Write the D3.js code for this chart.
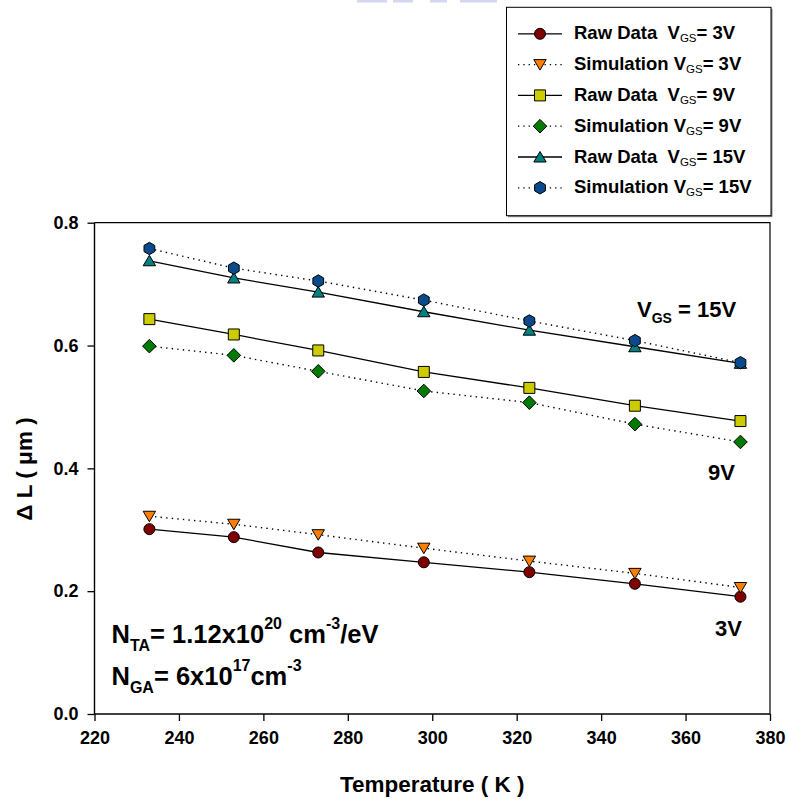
<!DOCTYPE html>
<html><head><meta charset="utf-8">
<script src="https://cdn.jsdelivr.net/npm/d3@7"></script>
<style>
body{margin:0;background:#fff}
text{font-family:Arial,"Liberation Sans",sans-serif;font-weight:bold;fill:#000;white-space:pre}
</style>
</head><body>
<svg id="chart" width="788" height="799"></svg>
<script>
// ---- data ----
const temps = [233, 253, 273, 298, 323, 348, 373];
const raw3  = [0.301, 0.288, 0.263, 0.247, 0.231, 0.212, 0.191];
const sim3  = [0.322, 0.309, 0.292, 0.270, 0.249, 0.229, 0.206];
const raw9  = [0.643, 0.618, 0.592, 0.557, 0.531, 0.502, 0.477];
const sim9  = [0.599, 0.584, 0.558, 0.526, 0.507, 0.472, 0.443];
const raw15 = [0.738, 0.710, 0.687, 0.655, 0.625, 0.598, 0.571];
const sim15 = [0.758, 0.726, 0.705, 0.674, 0.640, 0.608, 0.572];
const xTicks = [220, 240, 260, 280, 300, 320, 340, 360, 380];
const yTicks = [0.0, 0.2, 0.4, 0.6, 0.8];
const legendPrefixes = ["Raw Data\u00a0\u00a0V", "Simulation V", "Raw Data\u00a0\u00a0V", "Simulation V", "Raw Data\u00a0\u00a0V", "Simulation V"];
const legendSuffixes = ["= 3V", "= 3V", "= 9V", "= 9V", "= 15V", "= 15V"];

const series = [
  {values: raw3,  sym: "circle", color: "#7f0000", dotted: false},
  {values: sim3,  sym: "tridown", color: "#ff8000", dotted: true},
  {values: raw9,  sym: "square", color: "#cccc00", dotted: false},
  {values: sim9,  sym: "diamond", color: "#007a00", dotted: true},
  {values: raw15, sym: "triup", color: "#008080", dotted: false},
  {values: sim15, sym: "hexagon", color: "#0a4a8c", dotted: true}
];

// ---- layout ----
const svg = d3.select("#chart");
const L = 94.5, R = 770, T = 222.7, B = 714;
const x = d3.scaleLinear().domain([220, 380]).range([L, R]);
const y = d3.scaleLinear().domain([0, 0.8]).range([B, T]);

// faint artifact at top
[[357,30],[393,20],[430,17],[460,37]].forEach(([a,w]) => {
  svg.append("rect").attr("x", a).attr("y", 0).attr("width", w).attr("height", 2.5).attr("fill", "#d3d8f0");
});

function symPath(s) {
  switch (s) {
    case "circle": { const r = 5.5; return `M${r},0A${r},${r} 0 1,1 ${-r},0A${r},${r} 0 1,1 ${r},0Z`; }
    case "square": return "M-5.5,-5.5H5.5V5.5H-5.5Z";
    case "diamond": return "M0,-6.8L6.8,0L0,6.8L-6.8,0Z";
    case "triup": return "M0,-5.5L6.2,5L-6.2,5Z";
    case "tridown": return "M0,5.5L6.2,-5L-6.2,-5Z";
    case "hexagon": {
      const r = 6.2; let p = "";
      for (let i = 0; i < 6; i++) { const a = Math.PI / 3 * i - Math.PI / 2; p += (i ? "L" : "M") + (r * Math.cos(a)).toFixed(2) + "," + (r * Math.sin(a)).toFixed(2); }
      return p + "Z";
    }
  }
}

// axes
const xAxis = svg.append("g").attr("transform", `translate(0,${B})`)
  .call(d3.axisBottom(x).tickValues(xTicks).tickSize(7).tickSizeOuter(0).tickPadding(10).tickFormat(d3.format("d")));
const yAxis = svg.append("g").attr("transform", `translate(${L},0)`)
  .call(d3.axisLeft(y).tickValues(yTicks).tickSize(7).tickSizeOuter(0).tickPadding(9).tickFormat(d3.format(".1f")));
[xAxis, yAxis].forEach(g => {
  g.select(".domain").attr("stroke", "#000").attr("stroke-width", 1.4);
  g.selectAll(".tick line").attr("stroke", "#000").attr("stroke-width", 1.3);
  g.selectAll(".tick text").attr("font-size", 18).attr("font-family", "Arial, 'Liberation Sans', sans-serif").attr("font-weight", "bold").attr("fill", "#000");
});
xAxis.select(".domain").attr("d", `M${L},0H${R}`);
yAxis.select(".domain").attr("d", `M0,${B}V${T}`);
// frame top and right
svg.append("path").attr("d", `M${L},${T}H${R}V${B}`).attr("fill", "none").attr("stroke", "#000").attr("stroke-width", 1.2);

// lines
const line = d3.line().x(d => x(d[0])).y(d => y(d[1]));
series.forEach(s => {
  const pts = temps.map((t, i) => [t, s.values[i]]);
  svg.append("path").attr("d", line(pts)).attr("fill", "none").attr("stroke", "#000")
    .attr("stroke-width", s.dotted ? 1.4 : 1.3)
    .attr("stroke-dasharray", s.dotted ? "1.4,4.2" : null);
});
// markers
series.forEach(s => {
  svg.append("g").selectAll("path").data(temps.map((t, i) => [t, s.values[i]])).join("path")
    .attr("transform", d => `translate(${x(d[0])},${y(d[1])})`)
    .attr("d", symPath(s.sym)).attr("fill", s.color).attr("stroke", "#000").attr("stroke-width", 1);
});

// axis titles
svg.append("text").attr("x", (L + R) / 2).attr("y", 792).attr("text-anchor", "middle").attr("font-size", 22.5).text("Temperature ( K )");
svg.append("text").attr("transform", `translate(31.5,469) rotate(-90)`).attr("text-anchor", "middle").attr("font-size", 22.5).text("\u0394 L ( \u03bcm )");

// annotations
function richText(xp, yp, size, parts) {
  const t = svg.append("text").attr("x", xp).attr("y", yp).attr("font-size", size);
  let cur = 0;
  parts.forEach(([str, kind, fs]) => {
    const shift = kind === "n" ? 0 : fs.dy;
    const ts = t.append("tspan").text(str).attr("dy", shift - cur);
    cur = shift;
    if (kind !== "n") ts.attr("font-size", fs.size);
  });
  return t;
}
richText(637, 317, 22, [["V","n"],["GS","sub",{size:14,dy:6}],[" = 15V","n"]]);
svg.append("text").attr("x", 708).attr("y", 479.5).attr("font-size", 22).text("9V");
svg.append("text").attr("x", 715).attr("y", 636).attr("font-size", 22).text("3V");
richText(111.5, 643.3, 25.5, [["N","n"],["TA","sub",{size:16,dy:8}],["= 1.12x10","n"],["20","sup",{size:16,dy:-14}],[" cm","n"],["-3","sup",{size:16,dy:-14}],["/eV","n"]]);
richText(111.5, 685, 25.5, [["N","n"],["GA","sub",{size:16,dy:8}],["= 6x10","n"],["17","sup",{size:16,dy:-14}],["cm","n"],["-3","sup",{size:16,dy:-14}]]);

// legend
const lg = svg.append("g");
lg.append("rect").attr("x", 508).attr("y", 8.8).attr("width", 264.5).attr("height", 208.4).attr("fill", "#888");
lg.append("rect").attr("x", 506.5).attr("y", 7.3).attr("width", 264.5).attr("height", 208.4).attr("fill", "#fff").attr("stroke", "#000").attr("stroke-width", 1);
series.forEach((s, i) => {
  const by = 39.3 + i * 30.8, cy = by - 5.5;
  lg.append("path").attr("d", `M518,${cy}H562`).attr("stroke", "#000").attr("stroke-width", 1.3)
    .attr("stroke-dasharray", s.dotted ? "1.3,4" : null);
  lg.append("path").attr("transform", `translate(540,${cy})`).attr("d", symPath(s.sym)).attr("fill", s.color).attr("stroke", "#000").attr("stroke-width", 1);
  const t = lg.append("text").attr("x", 574).attr("y", by).attr("font-size", 18.5);
  t.append("tspan").text(legendPrefixes[i]);
  t.append("tspan").text("GS").attr("font-size", 11.5).attr("font-weight", "normal").attr("dy", 3);
  t.append("tspan").text(legendSuffixes[i]).attr("dy", -3);
});
</script>
</body></html>
